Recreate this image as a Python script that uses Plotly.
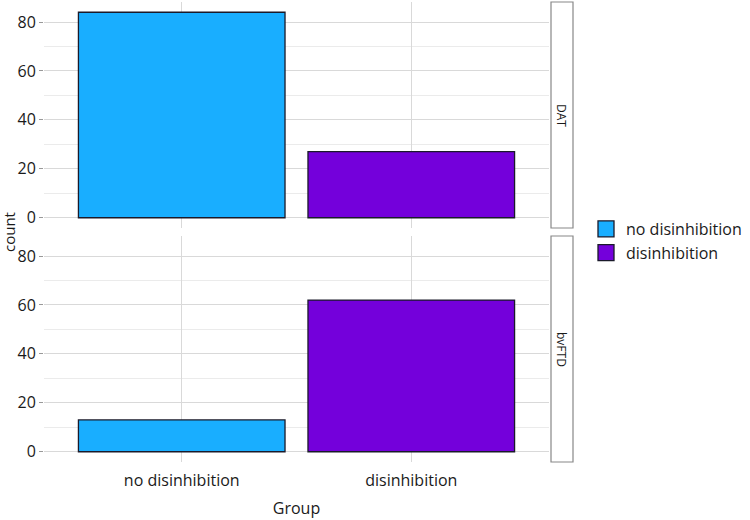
import plotly.graph_objects as go

groups = ["no disinhibition", "disinhibition"]
diagnoses = ["DAT", "bvFTD"]
counts_dat = [84, 27]
counts_bvftd = [13, 62]
colors = ["#19AEFF", "#7400DB"]

FONT = "Open Sans"
fig = go.Figure()

W, H = 750, 520
ml, mr, mt, mb = 44, 201, 2, 58
pw = W - ml - mr
ph = H - mt - mb

series = {"DAT": counts_dat, "bvFTD": counts_bvftd}
for r, diag in enumerate(diagnoses):
    vals = series[diag]
    xa = "x" if r == 0 else "x2"
    ya = "y" if r == 0 else "y2"
    for i, g in enumerate(groups):
        fig.add_trace(go.Bar(
            x=[g], y=[vals[i]], name=g, xaxis=xa, yaxis=ya,
            marker=dict(color=colors[i], line=dict(color="#1a1a2a", width=1.3)),
            width=0.9, showlegend=False, legendgroup=g,
        ))

# legend entries (larger square keys)
for i, g in enumerate(groups):
    fig.add_trace(go.Scatter(
        x=[None], y=[None], mode="markers", name=g, legendgroup=g, xaxis="x", yaxis="y",
        marker=dict(symbol="square", size=22, color=colors[i], line=dict(color="#1a1a2a", width=1.3)),
    ))

gap = 8 / ph
half = (1 - gap) / 2
grid = "#d9d9d9"
minor = dict(dtick=10, showgrid=True, gridcolor="#ebebeb", gridwidth=1, ticks="")
yax = dict(range=[-4.2, 88.2], tickvals=[0, 20, 40, 60, 80], gridcolor=grid, gridwidth=1.2,
           zeroline=False, ticks="outside", ticklen=4, tickcolor="#999999", tickwidth=1.2,
           tickfont=dict(size=16, color="#1a1a1a", family=FONT), minor=minor, showline=False)
xax = dict(range=[-0.6, 1.6], gridcolor=grid, gridwidth=1.2, showline=False, zeroline=False,
           categoryorder="array", categoryarray=groups, ticks="",
           tickfont=dict(size=16, color="#1a1a1a", family=FONT))

fig.update_layout(
    width=W, height=H, margin=dict(l=ml, r=mr, t=mt, b=mb, autoexpand=False),
    plot_bgcolor="white", paper_bgcolor="white", bargap=0.1,
    font=dict(family=FONT, color="#1a1a1a"),
    xaxis=dict(xax, anchor="y", showticklabels=False, matches="x2"),
    xaxis2=dict(xax, anchor="y2", ticklabelstandoff=7,
                title=dict(text="Group", font=dict(size=16), standoff=12)),
    yaxis=dict(yax, domain=[1 - half, 1], anchor="x"),
    yaxis2=dict(yax, domain=[0, half], anchor="x2"),
    legend=dict(x=(586 - ml) / pw, xanchor="left", y=(H - mb - 241) / ph, yanchor="middle",
                font=dict(size=16, family=FONT), tracegroupgap=0, itemwidth=30,
                bgcolor="rgba(0,0,0,0)"),
)

fig.add_annotation(text="count", x=(9 - ml) / pw, y=0.5, xref="paper", yref="paper", textangle=-90,
                   showarrow=False, font=dict(size=15, family=FONT), xanchor="center", yanchor="middle")

x0 = (551 - ml) / pw
x1 = (573 - ml) / pw
for r, diag in enumerate(diagnoses):
    ydom = [1 - half, 1] if r == 0 else [0, half]
    fig.add_shape(type="rect", xref="paper", yref="paper", x0=x0, x1=x1, y0=ydom[0], y1=ydom[1],
                  line=dict(color="#888888", width=1.2), fillcolor="white")
    fig.add_annotation(text=diag, x=(x0 + x1) / 2, y=(ydom[0] + ydom[1]) / 2, xref="paper", yref="paper",
                       textangle=90, showarrow=False, xanchor="center", yanchor="middle",
                       font=dict(size=12, family=FONT, color="#1a1a1a"))

fig.write_html("out.html", config={"displayModeBar": False},
               post_script="document.body.style.margin='0';")
